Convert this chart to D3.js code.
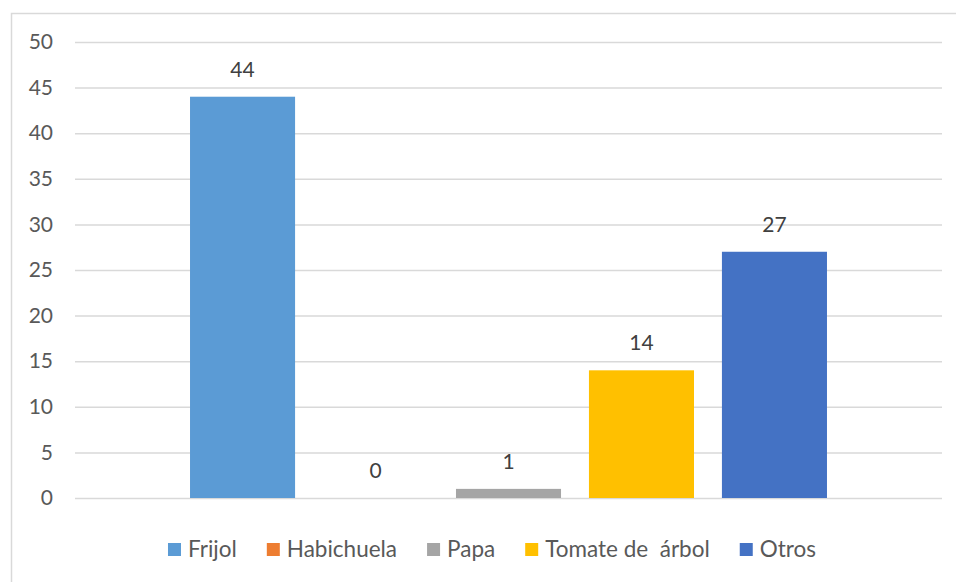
<!doctype html>
<html lang="es">
  <head>
    <meta charset="utf-8">
    <title>Cultivos</title>
    <script src="https://d3js.org/d3.v7.min.js"></script>
    <style>
      body { margin: 0; background: #fff; }
      text { font-family: Lato, "Open Sans", sans-serif; }
    </style>
  </head>
  <body>
    <div id="container"></div>
    <script>
      // Data
      const series = ["Frijol", "Habichuela", "Papa", "Tomate de  árbol", "Otros"]
      const values = [44, 0, 1, 14, 27]
      const colors = ["#5B9BD5", "#ED7D31", "#A5A5A5", "#FFC000", "#4472C4"]
      const yTicks = [0, 5, 10, 15, 20, 25, 30, 35, 40, 45, 50]

      const width = 956
      const height = 582
      const plot = {left: 75, right: 942, top: 42, bottom: 498}

      const svg = d3.select("#container")
        .append("svg")
          .attr("width", width)
          .attr("height", height)

      // chart area outline (runs off the right and bottom edge)
      svg.append("rect")
        .attr("x", 11.5)
        .attr("y", 13.5)
        .attr("width", 1000)
        .attr("height", 600)
        .attr("fill", "none")
        .attr("stroke", "#d9d9d9")
        .attr("stroke-width", 1.5)

      const y = d3.scaleLinear()
        .domain([0, 50])
        .range([plot.bottom, plot.top])

      const x = d3.scaleBand()
        .domain(series)
        .range([plot.left, plot.right])
        .paddingInner(0.21)
        .paddingOuter(0.865)

      // gridlines + tick labels via axis
      const yAxis = d3.axisLeft(y)
        .tickValues(yTicks)
        .tickSize(-(plot.right - plot.left))
        .tickPadding(22)

      const gAxis = svg.append("g")
        .attr("transform", `translate(${plot.left},0)`)
        .call(yAxis)
      gAxis.select(".domain").remove()
      gAxis.selectAll(".tick line")
        .attr("stroke", "#d9d9d9")
        .attr("stroke-width", 1.5)
      gAxis.selectAll(".tick text")
        .attr("fill", "#595959")
        .style("font-size", "21px")
        .style("font-family", "Lato, 'Open Sans', sans-serif")

      // bars
      svg.selectAll(".bar")
        .data(series)
        .join("rect")
          .attr("class", "bar")
          .attr("x", d => x(d))
          .attr("width", x.bandwidth())
          .attr("y", (d, i) => y(values[i]))
          .attr("height", (d, i) => y(0) - y(values[i]))
          .attr("fill", (d, i) => colors[i])

      // data labels
      svg.selectAll(".label")
        .data(series)
        .join("text")
          .attr("class", "label")
          .attr("x", d => x(d) + x.bandwidth() / 2)
          .attr("y", (d, i) => y(values[i]) - 20)
          .attr("text-anchor", "middle")
          .attr("fill", "#404040")
          .style("font-size", "21px")
          .text((d, i) => values[i])

      // legend
      const legend = svg.append("g")
      let cursor = 0
      series.forEach((name, i) => {
        const item = legend.append("g").attr("transform", `translate(${cursor},0)`)
        item.append("rect")
          .attr("x", 0)
          .attr("y", -14)
          .attr("width", 13)
          .attr("height", 13)
          .attr("fill", colors[i])
        const t = item.append("text")
          .attr("x", 20)
          .attr("y", 0)
          .attr("fill", "#595959")
          .style("font-size", "22.5px")
          .style("white-space", "pre")
          .text(name)
        cursor += 20 + t.node().getComputedTextLength() + 30
      })
      const legendWidth = cursor - 30
      legend.attr("transform", `translate(${492 - legendWidth / 2},557)`)
    </script>
  </body>
</html>
